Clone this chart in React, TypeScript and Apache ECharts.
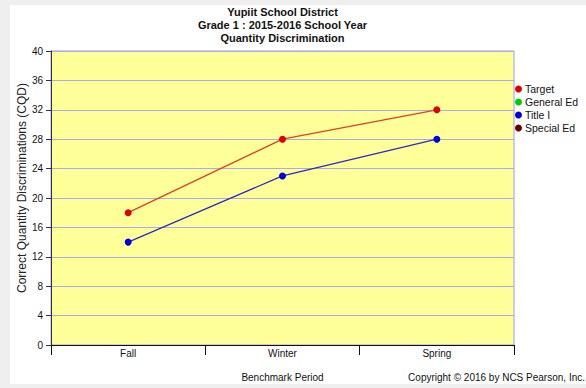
import React, { useEffect, useRef } from "react";
import * as echarts from "echarts";

// Benchmark periods on the x axis
const periods = ["Fall", "Winter", "Spring"];

// Correct quantity discriminations per benchmark period
const targetValues = [18, 28, 32];
const titleOneValues = [14, 23, 28];
const generalEdValues: number[] = [];
const specialEdValues: number[] = [];

const titleLines = [
  "Yupiit School District",
  "Grade 1 : 2015-2016 School Year",
  "Quantity Discrimination",
];

const yAxisTitle = "Correct Quantity Discriminations (CQD)";
const xAxisTitle = "Benchmark Period";
const copyrightText = "Copyright \u00a9 2016 by NCS Pearson, Inc.";

const FONT = "'Liberation Sans', Arial, sans-serif";

export default function App() {
  const ref = useRef<HTMLDivElement>(null);

  useEffect(() => {
    if (!ref.current) return;
    const chart = echarts.init(ref.current, undefined, { renderer: "svg" });

    const plotLeft = 51;
    const plotTop = 51;
    const plotWidth = 463;
    const plotHeight = 294;
    const plotCenterX = plotLeft + plotWidth / 2;

    chart.setOption({
      animation: false,
      backgroundColor: "transparent",
      textStyle: { fontFamily: FONT },
      grid: {
        left: plotLeft,
        top: plotTop,
        width: plotWidth,
        height: plotHeight,
        show: true,
        backgroundColor: "#ffff99",
        borderColor: "#9999ff",
        borderWidth: 1,
      },
      legend: {
        orient: "vertical",
        left: 510,
        top: 78,
        icon: "circle",
        itemWidth: 7,
        itemHeight: 7,
        itemGap: 1,
        textStyle: {
          fontFamily: FONT,
          fontSize: 10.5,
          color: "#111",
          lineHeight: 12,
          padding: [0, 0, 0, -2],
        },
        data: ["Target", "General Ed", "Title I", "Special Ed"],
      },
      xAxis: {
        type: "category",
        data: periods,
        boundaryGap: true,
        axisLine: { show: true, lineStyle: { color: "#111", width: 1 } },
        axisTick: { show: true, length: 10, lineStyle: { color: "#111" } },
        axisLabel: {
          fontFamily: FONT,
          fontSize: 10,
          color: "#111",
          margin: 3,
        },
        splitLine: { show: false },
      },
      yAxis: {
        type: "value",
        min: 0,
        max: 40,
        interval: 4,
        axisLine: { show: true, lineStyle: { color: "#333", width: 1 } },
        axisTick: { show: true, length: 5, lineStyle: { color: "#333" } },
        axisLabel: {
          fontFamily: FONT,
          fontSize: 10,
          color: "#111",
          margin: 8,
        },
        splitLine: { show: true, lineStyle: { color: "#aaaaee", width: 1 } },
      },
      series: [
        {
          name: "Target",
          type: "line",
          data: targetValues,
          symbol: "circle",
          symbolSize: 7,
          itemStyle: { color: "#dd0000" },
          lineStyle: { color: "#e04028", width: 1.3 },
          z: 3,
        },
        {
          name: "General Ed",
          type: "line",
          data: generalEdValues,
          symbol: "circle",
          itemStyle: { color: "#00cc00" },
        },
        {
          name: "Title I",
          type: "line",
          data: titleOneValues,
          symbol: "circle",
          symbolSize: 7,
          itemStyle: { color: "#0000dd" },
          lineStyle: { color: "#2a2ac8", width: 1.3 },
          z: 3,
        },
        {
          name: "Special Ed",
          type: "line",
          data: specialEdValues,
          symbol: "circle",
          itemStyle: { color: "#660000" },
        },
      ],
      graphic: [
        ...titleLines.map((line, i) => ({
          type: "text",
          x: plotCenterX,
          y: 12 + i * 13,
          style: {
            text: line,
            fontFamily: FONT,
            fontSize: 11,
            fontWeight: "bold",
            fill: "#111",
            textAlign: "center",
            textVerticalAlign: "middle",
          },
        })),
        {
          type: "text",
          x: 22,
          y: plotTop + plotHeight / 2 - 10,
          rotation: Math.PI / 2,
          style: {
            text: yAxisTitle,
            fontFamily: FONT,
            fontSize: 12,
            fill: "#222",
            textAlign: "center",
            textVerticalAlign: "middle",
          },
        },
        {
          type: "text",
          x: plotCenterX,
          y: 377,
          style: {
            text: xAxisTitle,
            fontFamily: FONT,
            fontSize: 10,
            fill: "#111",
            textAlign: "center",
            textVerticalAlign: "middle",
          },
        },
        {
          type: "text",
          x: 585,
          y: 377,
          style: {
            text: copyrightText,
            fontFamily: FONT,
            fontSize: 10,
            fill: "#111",
            textAlign: "right",
            textVerticalAlign: "middle",
          },
        },
      ],
    });

    return () => chart.dispose();
  }, []);

  return (
    <div
      style={{
        position: "fixed",
        left: 0,
        top: 0,
        width: 586,
        height: 388,
        background: "#efefef",
      }}
    >
      <div
        style={{
          position: "absolute",
          left: 10,
          top: 5,
          right: 0,
          bottom: 4,
          background: "#ffffff",
        }}
      />
      <div
        ref={ref}
        style={{ position: "absolute", left: 0, top: 0, width: 586, height: 388 }}
      />
    </div>
  );
}
